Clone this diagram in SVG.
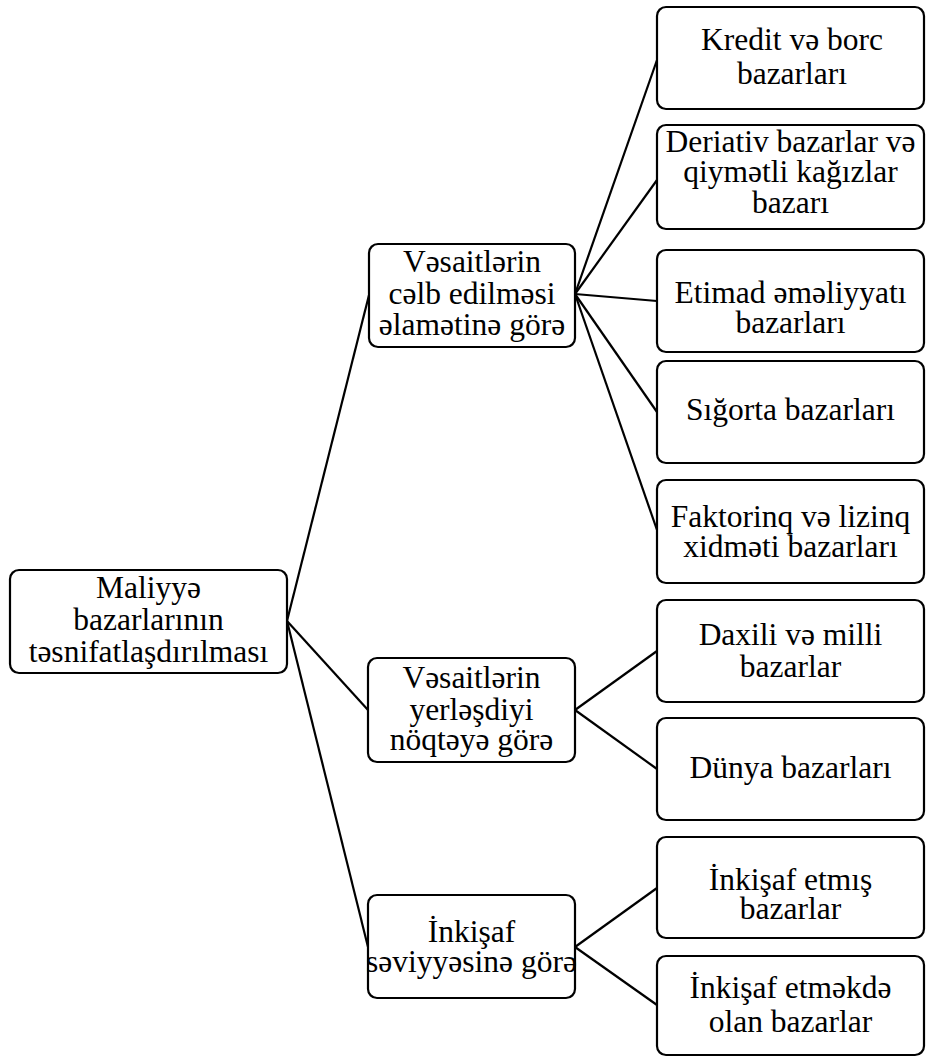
<svg xmlns="http://www.w3.org/2000/svg" width="926" height="1059" viewBox="0 0 926 1059">
<style>
.box{fill:#fff;stroke:#000;stroke-width:2.2}
text{font-family:'Liberation Serif','Times New Roman',Tinos,'DejaVu Serif',serif;font-size:31.5px;text-anchor:middle;fill:#000}
.c{stroke:#000;stroke-width:2.2;fill:none}
</style>
<rect width="926" height="1059" fill="#fff"/>
<g id="connectors">
<line class="c" x1="287" y1="621" x2="369" y2="295"/>
<line class="c" x1="287" y1="621" x2="368" y2="710"/>
<line class="c" x1="287" y1="621" x2="368" y2="947"/>
<line class="c" x1="575" y1="294" x2="657" y2="60"/>
<line class="c" x1="575" y1="294" x2="657" y2="180"/>
<line class="c" x1="575" y1="294" x2="657" y2="301"/>
<line class="c" x1="575" y1="294" x2="657" y2="412"/>
<line class="c" x1="575" y1="294" x2="657" y2="530"/>
<line class="c" x1="575" y1="710" x2="657" y2="651"/>
<line class="c" x1="575" y1="710" x2="657" y2="769"/>
<line class="c" x1="575" y1="947" x2="657" y2="888"/>
<line class="c" x1="575" y1="947" x2="657" y2="1005"/>
</g>
<g id="root">
<rect class="box" x="10" y="570" width="277" height="103" rx="9"/>
<text x="148.5" y="598">Maliyyə</text>
<text x="148.5" y="630">bazarlarının</text>
<text x="148.5" y="662">təsnifatlaşdırılması</text>
</g>
<g id="mid1">
<rect class="box" x="369" y="244" width="206" height="103" rx="9"/>
<text x="472" y="272">Vəsaitlərin</text>
<text x="472" y="304">cəlb edilməsi</text>
<text x="472" y="335">əlamətinə görə</text>
</g>
<g id="mid2">
<rect class="box" x="368" y="658" width="207" height="104" rx="9"/>
<text x="471.5" y="688">Vəsaitlərin</text>
<text x="471.5" y="720">yerləşdiyi</text>
<text x="471.5" y="750">nöqtəyə görə</text>
</g>
<g id="mid3">
<rect class="box" x="368" y="895" width="207" height="103" rx="9"/>
<text x="471.5" y="942">İnkişaf</text>
<text x="471.5" y="972">səviyyəsinə görə</text>
</g>
<g id="r1">
<rect class="box" x="657" y="7" width="267" height="102" rx="9"/>
<text x="792" y="50">Kredit və borc</text>
<text x="792" y="84">bazarları</text>
</g>
<g id="r2">
<rect class="box" x="657" y="125" width="267" height="104" rx="9"/>
<text x="790.5" y="152">Deriativ bazarlar və</text>
<text x="790.5" y="182">qiymətli kağızlar</text>
<text x="790.5" y="213">bazarı</text>
</g>
<g id="r3">
<rect class="box" x="657" y="250" width="267" height="102" rx="9"/>
<text x="790.5" y="303">Etimad əməliyyatı</text>
<text x="790.5" y="333">bazarları</text>
</g>
<g id="r4">
<rect class="box" x="657" y="361" width="267" height="102" rx="9"/>
<text x="790.5" y="420">Sığorta bazarları</text>
</g>
<g id="r5">
<rect class="box" x="657" y="480" width="267" height="103" rx="9"/>
<text x="790.5" y="527">Faktorinq və lizinq</text>
<text x="790.5" y="557">xidməti bazarları</text>
</g>
<g id="r6">
<rect class="box" x="657" y="600" width="267" height="102" rx="9"/>
<text x="790.5" y="645">Daxili və milli</text>
<text x="790.5" y="677">bazarlar</text>
</g>
<g id="r7">
<rect class="box" x="657" y="718" width="267" height="102" rx="9"/>
<text x="790.5" y="778">Dünya bazarları</text>
</g>
<g id="r8">
<rect class="box" x="657" y="837" width="267" height="101" rx="9"/>
<text x="790.5" y="890">İnkişaf etmış</text>
<text x="790.5" y="919">bazarlar</text>
</g>
<g id="r9">
<rect class="box" x="657" y="956" width="267" height="99" rx="9"/>
<text x="790.5" y="998">İnkişaf etməkdə</text>
<text x="790.5" y="1032">olan bazarlar</text>
</g>
</svg>
